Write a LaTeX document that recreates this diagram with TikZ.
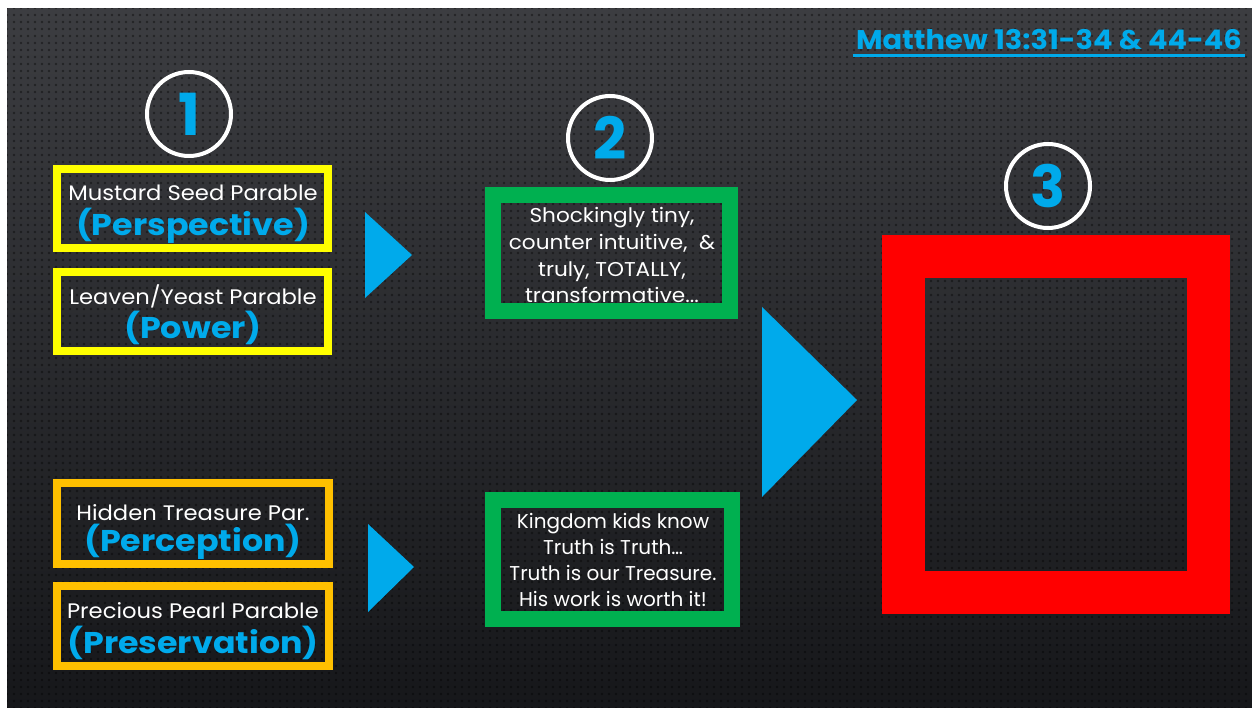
\documentclass[tikz,border=0pt]{standalone}
\usepackage{fontspec}
\setmainfont{Poppins}
\newfontfamily\plainwide[FakeStretch=1.08]{Poppins}
\newfontfamily\keywide[FakeStretch=1.11]{Poppins}
\newfontfamily\titlewide[FakeStretch=1.07]{Poppins}
\usetikzlibrary{patterns.meta}

\definecolor{sky}{RGB}{0,170,235}
\definecolor{boxyellow}{RGB}{255,255,0}
\definecolor{boxgold}{RGB}{255,192,0}
\definecolor{boxgreen}{RGB}{0,176,80}
\definecolor{boxred}{RGB}{255,0,0}
\definecolor{bgtop}{RGB}{60,61,65}
\definecolor{bgbottom}{RGB}{22,23,26}

\tikzset{
  parbox/.style={draw=#1, line width=8, minimum width=271, minimum height=79, inner sep=0},
  notebox/.style={draw=boxgreen, line width=16, inner sep=0},
  stepcircle/.style={circle, draw=white, line width=4, minimum size=84, inner sep=0,
    text=sky, font=\fontsize{58}{58}\selectfont\bfseries},
  plainline/.style={anchor=base, text=white, font=\plainwide\fontsize{21}{21}\selectfont},
  keyline/.style={anchor=base, text=sky, font=\keywide\fontsize{30}{30}\selectfont\bfseries},
  noteline/.style={anchor=base, text=white, font=\plainwide\fontsize{20}{20}\selectfont},
  tightline/.style={anchor=base, text=white, font=\fontsize{20}{20}\selectfont},
  pointer/.style={fill=sky},
}

\begin{document}
\begin{tikzpicture}[x=1pt,y=-1pt]
\useasboundingbox (0,0) rectangle (1252,708);
\fill[white] (0,0) rectangle (1252,708);
% slide background with a fine dot texture
\shade[top color=bgtop, bottom color=bgbottom] (7,9) rectangle (1252,708);
\fill[pattern={Dots[distance=7pt, radius=1.4pt]}, pattern color=black, opacity=0.4] (7,9) rectangle (1252,708);

% reference heading
\node[anchor=base, text=sky, font=\titlewide\fontsize{27}{27}\selectfont\bfseries] (title) at (1049,50) {Matthew 13:31-34 \& 44-46};
\draw[sky, line width=3] ([yshift=-6pt]title.base west) -- ([yshift=-6pt]title.base east);

% step markers
\node[stepcircle] (c1) at (189,114) {1};
\node[stepcircle] (c2) at (610,138) {2};
\node[stepcircle] (c3) at (1048,186) {3};

% parable boxes
\node[parbox=boxyellow] (p1) at (192.5,208.5) {};
\node[plainline] (p1a) at (193,201) {Mustard Seed Parable};
\node[keyline]   (p1b) at (193,236) {(Perspective)};

\node[parbox=boxyellow] (p2) at (192.5,311.5) {};
\node[plainline] (p2a) at (193,305) {Leaven/Yeast Parable};
\node[keyline]   (p2b) at (193,338) {(Power)};

\node[parbox=boxgold, minimum width=272, minimum height=81] (p3) at (193,523.5) {};
\node[plainline] (p3a) at (193,520) {Hidden Treasure Par.};
\node[keyline]   (p3b) at (193,551) {(Perception)};

\node[parbox=boxgold, minimum width=272, minimum height=80] (p4) at (193,626) {};
\node[plainline] (p4a) at (193,618) {Precious Pearl Parable};
\node[keyline]   (p4b) at (193,653) {(Preservation)};

% summary boxes
\node[notebox, minimum width=237, minimum height=116] (s1) at (611.5,253) {};
\node[noteline] (s1a) at (612,223) {Shockingly tiny,};
\node[noteline] (s1b) at (612,250) {counter intuitive,~ \&};
\node[noteline] (s1c) at (612,277) {truly, TOTALLY,};
\node[noteline] (s1d) at (612,303) {transformative...};

\node[notebox, minimum width=239, minimum height=119] (s2) at (612.5,559.5) {};
\node[tightline] (s2a) at (613,528) {Kingdom kids know};
\node[tightline] (s2b) at (613,554) {Truth is Truth…};
\node[tightline] (s2c) at (613,580) {Truth is our Treasure.};
\node[tightline] (s2d) at (613,606) {His work is worth it!};

% outcome frame
\node[draw=boxred, line width=43, minimum width=305, minimum height=336, inner sep=0] (goal) at (1056,424.5) {};

% pointers between the columns
\coordinate (a1top) at (365,212);
\coordinate (a1tip) at (412,255);
\coordinate (a1bot) at (365,298);
\fill[pointer] (a1top) -- (a1tip) -- (a1bot) -- cycle;

\coordinate (a2top) at (368,524);
\coordinate (a2tip) at (414,567);
\coordinate (a2bot) at (368,612);
\fill[pointer] (a2top) -- (a2tip) -- (a2bot) -- cycle;

\coordinate (a3top) at (762,307);
\coordinate (a3tip) at (857,400);
\coordinate (a3bot) at (762,497);
\fill[pointer] (a3top) -- (a3tip) -- (a3bot) -- cycle;
\end{tikzpicture}
\end{document}
